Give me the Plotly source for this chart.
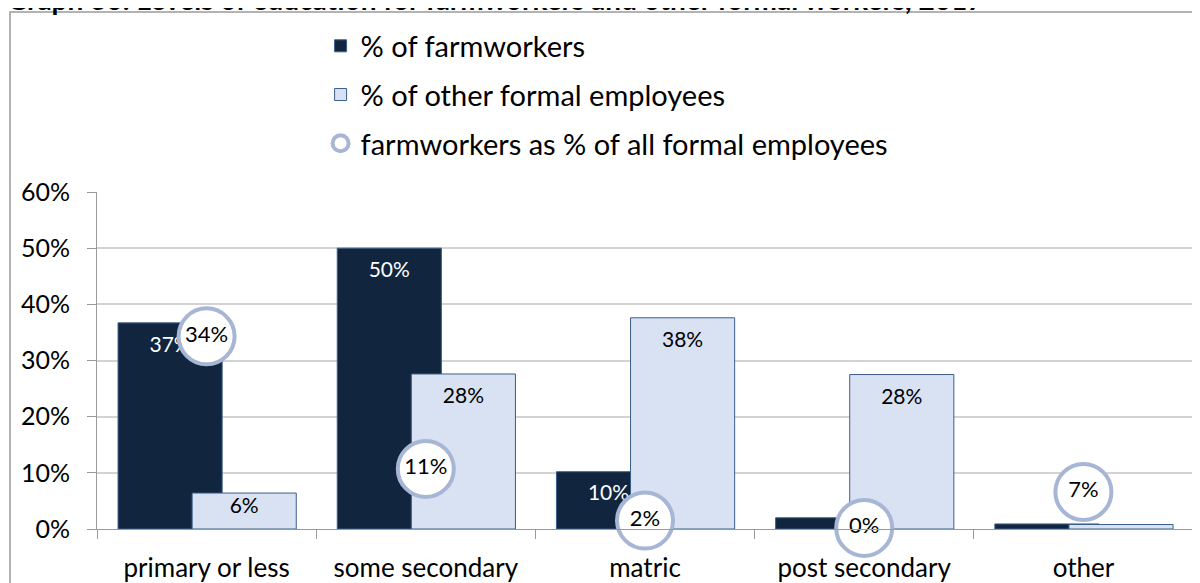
import plotly.graph_objects as go

# education levels and shares
categories = ["primary or less", "some secondary", "matric", "post secondary", "other"]
farmworkers = [36.7, 50.0, 10.2, 2.0, 0.9]
other_formal = [6.4, 27.6, 37.6, 27.5, 0.8]
farm_share = [34.3, 10.7, 1.5, 0.2, 6.6]
farm_share_labels = ["34%", "11%", "2%", "0%", "7%"]

title = "Graph 36: Levels of education for farmworkers and other formal workers, 2017"

FONT = "Lato"
DARK = "#12253F"
LIGHT = "#D9E2F3"
RING = "#A6B6D4"
EDGE = "#3B5E8C"

BAR_W = 0.475
FARM_OFF = -0.404
OTHER_OFF = -0.066
PX_PER_UNIT = 337 / 60  # plot height / y range

xs = list(range(len(categories)))


def label_pos(vals, off):
    # labels sit inside the top of each bar ("inside end"), tiny bars get none
    lx, ly, lt = [], [], []
    for i, v in enumerate(vals):
        if v < 5:
            continue
        lx.append(i + off + BAR_W / 2)
        ly.append(v - min(24 / PX_PER_UNIT, 0.4 * v))
        lt.append(f"{round(v)}%")
    return lx, ly, lt


fig = go.Figure()

fig.add_trace(go.Bar(
    x=xs, y=farmworkers, name="% of farmworkers",
    offset=FARM_OFF, width=BAR_W,
    marker=dict(color=DARK, line=dict(color=EDGE, width=1)),
    legendgroup="a",
))
fig.add_trace(go.Bar(
    x=xs, y=other_formal, name="% of other formal employees",
    offset=OTHER_OFF, width=BAR_W,
    marker=dict(color=LIGHT, line=dict(color=EDGE, width=1)),
    legendgroup="b",
))

fx, fy, ft = label_pos(farmworkers, FARM_OFF)
fig.add_trace(go.Scatter(x=fx, y=fy, text=ft, mode="text", textposition="middle center",
                         textfont=dict(family=FONT, size=21, color="white"),
                         showlegend=False, hoverinfo="skip"))
ox, oy, ot = label_pos(other_formal, OTHER_OFF)
fig.add_trace(go.Scatter(x=ox, y=oy, text=ot, mode="text", textposition="middle center",
                         textfont=dict(family=FONT, size=21, color="black"),
                         showlegend=False, hoverinfo="skip"))

fig.add_trace(go.Scatter(
    x=xs, y=farm_share, name="farmworkers as % of all formal employees",
    mode="markers+text", text=farm_share_labels, textposition="middle center",
    textfont=dict(family=FONT, size=22, color="black"),
    marker=dict(size=56, color="white", line=dict(color=RING, width=4)),
    cliponaxis=False,
    legendgroup="c",
))

# the page body has an 8px margin, so the figure is 8px smaller than the window
fig.update_layout(
    width=1192, height=575,
    margin=dict(l=89, r=7, t=184, b=54),
    paper_bgcolor="white", plot_bgcolor="white",
    barmode="overlay",
    font=dict(family=FONT, size=22, color="black"),
    legend=dict(
        x=0.204, y=1.509, xanchor="left", yanchor="top",
        font=dict(family=FONT, size=29, color="black"),
        tracegroupgap=8, itemsizing="trace",
        bgcolor="rgba(0,0,0,0)",
    ),
    showlegend=True,
)

fig.update_yaxes(
    range=[0, 60], tickvals=[0, 10, 20, 30, 40, 50, 60],
    ticktext=["0%", "10%", "20%", "30%", "40%", "50%", "60%"],
    showgrid=True, gridcolor="#D3D3D3", gridwidth=1.5,
    showline=True, linecolor="#9A9A9A", linewidth=1,
    ticks="outside", ticklen=9, tickcolor="#9A9A9A",
    ticklabelstandoff=12, zeroline=False, automargin=False,
    tickfont=dict(family=FONT, size=25, color="black"),
)
fig.update_xaxes(
    range=[-0.5, len(categories) - 0.5],
    tickvals=xs, ticktext=categories,
    showgrid=False, zeroline=False, automargin=False,
    showline=True, linecolor="#9A9A9A", linewidth=1,
    ticks="outside", ticklen=9, tickcolor="rgba(0,0,0,0)",
    minor=dict(tickmode="array", tickvals=[i - 0.5 for i in range(len(categories) + 1)],
               ticks="outside", ticklen=9, tickcolor="#9A9A9A", showgrid=False),
    ticklabelstandoff=7,
    tickfont=dict(family=FONT, size=26, color="black"),
)

# outer chart frame, partly off the page like the original
fig.add_shape(type="rect", xref="paper", yref="paper",
              x0=-0.0794, x1=1.05, y0=-0.3, y1=1.534,
              line=dict(color="#9A9A9A", width=1.5), fillcolor="rgba(0,0,0,0)", layer="below")

# cropped title at the very top
fig.add_annotation(text=f"<b>{title}</b>", xref="paper", yref="paper",
                   x=-0.084, y=1.516, xanchor="left", yanchor="bottom",
                   showarrow=False, font=dict(family=FONT, size=28, color="black"))

fig.write_html("out.html")
